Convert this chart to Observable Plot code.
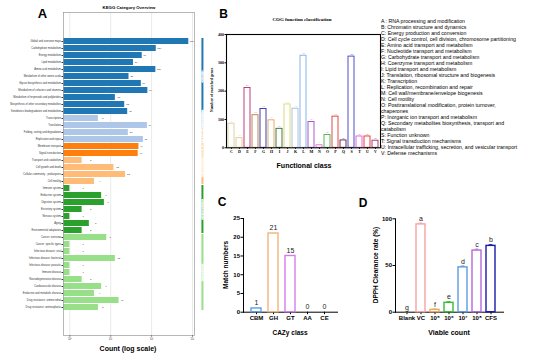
<!DOCTYPE html>
<html><head><meta charset="utf-8">
<script src="https://cdn.jsdelivr.net/npm/d3@7"></script>
<script src="https://cdn.jsdelivr.net/npm/@observablehq/plot@0.6"></script>
<style>
html,body{margin:0;padding:0;background:#fff;}
#fig{position:relative;width:550px;height:362px;overflow:hidden;background:#fff;}
#fig svg{position:absolute;}
</style></head><body><div id="fig"></div>
<script>
const SANS = "'Liberation Sans', Arial, Helvetica, sans-serif";
const SERIF = "'Liberation Serif', 'Times New Roman', serif";

// ---------- Panel A: KEGG ----------
const keggTerms = [
  "Global and overview maps","Carbohydrate metabolism","Energy metabolism","Lipid metabolism",
  "Amino acid metabolism","Metabolism of other amino acids","Glycan biosynthesis and metabolism",
  "Metabolism of cofactors and vitamins","Metabolism of terpenoids and polyketides",
  "Biosynthesis of other secondary metabolites","Xenobiotics biodegradation and metabolism",
  "Transcription","Translation","Folding, sorting and degradation","Replication and repair",
  "Membrane transport","Signal transduction",
  "Transport and catabolism","Cell growth and death","Cellular community - prokaryotes","Cell motility",
  "Immune system","Endocrine system","Digestive system","Excretory system","Nervous system","Aging","Environmental adaptation",
  "Cancer: overview","Cancer: specific types","Infectious disease: viral","Infectious disease: bacterial",
  "Infectious disease: parasitic","Immune disease","Neurodegenerative disease","Cardiovascular disease",
  "Endocrine and metabolic disease","Drug resistance: antimicrobial","Drug resistance: antineoplastic"
];
const keggCounts = [812,130,59,36,127,28,56,81,13,22,26, 5,79,27,63, 49,47, 2,12,23,4, 1,6,7,2,1,3,2, 8,1,1,13,1,1,2,6,4,16,5];
const keggClassOf = [
  "Metabolism","Metabolism","Metabolism","Metabolism","Metabolism","Metabolism","Metabolism","Metabolism","Metabolism","Metabolism","Metabolism",
  "Genetic Information Processing","Genetic Information Processing","Genetic Information Processing","Genetic Information Processing",
  "Environmental Information Processing","Environmental Information Processing",
  "Cellular Processes","Cellular Processes","Cellular Processes","Cellular Processes",
  "Organismal Systems","Organismal Systems","Organismal Systems","Organismal Systems","Organismal Systems","Organismal Systems","Organismal Systems",
  "Human Diseases","Human Diseases","Human Diseases","Human Diseases","Human Diseases","Human Diseases","Human Diseases","Human Diseases","Human Diseases","Human Diseases","Human Diseases"
];
const keggClasses = ["Metabolism","Genetic Information Processing","Environmental Information Processing","Cellular Processes","Organismal Systems","Human Diseases"];
const keggColors = ["#1f77b4","#aec7e8","#ff7f0e","#ffbb78","#2ca02c","#98df8a"];
const keggTicks = [1,10,100,1000];
const keggTickLabels = ["10\u2070","10\u00b9","10\u00b2","10\u00b3"];

// ---------- Panel B: COG ----------
const cogLetters = ["C","D","E","F","G","H","I","J","K","L","M","N","O","P","Q","S","T","U","V"];
const cogCounts = [85,34,211,115,137,97,67,153,138,325,91,9,45,110,26,322,40,40,25];
const cogColors = ["#d8cf9c","#e9c38e","#b92a6c","#bb7a3a","#2b2ba8","#e3a45a","#2f6d2f","#dcd472","#a9b9d9","#7aafe2","#a445c9","#e274d2","#43b343","#e23434","#5c1c3c","#3c3cc9","#e455d4","#e22a2a","#a32a6a"];
const cogLegend = [
  "A : RNA processing and modification",
  "B: Chromatin structure and dynamics",
  "C: Energy production and conversion",
  "D: Cell cycle control, cell division, chromosome partitioning",
  "E: Amino acid transport and metabolism",
  "F: Nucleotide transport and metabolism",
  "G: Carbohydrate transport and metabolism",
  "H: Coenzyme transport and metabolism",
  "I: Lipid transport and metabolism",
  "J: Translation, ribosomal structure and biogenesis",
  "K: Transcription",
  "L: Replication, recombination and repair",
  "M: Cell wall/membrane/envelope biogenesis",
  "N: Cell motility",
  "O: Posttranslational modification, protein turnover,",
  "chaperones",
  "P: Inorganic ion transport and metabolism",
  "Q: Secondary metabolites biosynthesis, transport and",
  "catabolism",
  "S: Function unknown",
  "T: Signal transduction mechanisms",
  "U: Intracellular trafficking, secretion, and vesicular transport",
  "V: Defense mechanisms"
];

// ---------- Panel C: CAZy ----------
const cazyClasses = ["CBM","GH","GT","AA","CE"];
const cazyCounts = [1,21,15,0,0];
const cazyColors = ["#5e9fe0","#f1b57c","#d67ce9","#999999","#999999"];

// ---------- Panel D: DPPH ----------
const dpphGroups = ["Blank","VC","10\u2075","10\u2076","10\u2077","10\u2078","CFS"];
const dpphRates = [0,94,2.5,10,48,66,71];
const dpphErr = [0.3,1.5,1,1.5,1.5,1.5,1.5];
const dpphLetters = ["g","a","f","e","d","c","b"];
const dpphColors = ["#999999","#f5a3a3","#e9a866","#35bb35","#5c9be2","#b26ad9","#1a1aa8"];

const fig = document.getElementById("fig");
function place(el, left, top) { el.style.left = left + "px"; el.style.top = top + "px"; fig.appendChild(el); }

// ---- A ----
const keggData = keggTerms.map((term, i) => ({term, count: keggCounts[i], cls: keggClassOf[i]}));
const classSpans = keggClasses.map(c => {
  const rows = keggData.filter(d => d.cls === c);
  return {cls: c, first: rows[0].term, last: rows[rows.length - 1].term, mid: rows[Math.floor((rows.length - 1) / 2)].term};
});
const stripX = 1750;
const plotA = Plot.plot({
  width: 215, height: 362,
  marginLeft: 63, marginRight: 21, marginTop: 12, marginBottom: 27,
  style: {fontFamily: SANS, fontSize: "2.6px", background: "transparent", overflow: "visible", color: "#333"},
  x: {type: "log", domain: [0.7, 1120], ticks: keggTicks, tickFormat: (d, i) => keggTickLabels[keggTicks.indexOf(d)], tickSize: 1.5, tickPadding: 1, label: null, grid: true},
  y: {domain: keggTerms, paddingInner: 0.2, paddingOuter: 1.85, tickSize: 1.5, tickPadding: 1, label: null},
  color: {domain: keggClasses, range: keggColors},
  marks: [
    Plot.barX(keggData, {x1: 0.7, x2: "count", y: "term", fill: "cls"}),
    Plot.text(keggData, {x: d => d.count * 1.05 + 1, y: "term", text: d => String(d.count), textAnchor: "start", fontSize: 2.4, fill: "#333"}),
    Plot.frame({stroke: "#999", strokeWidth: 0.7}),
    Plot.ruleX(classSpans, {x: stripX, y1: "first", y2: "last", stroke: "cls", strokeWidth: 2}),
    Plot.text(classSpans, {x: stripX, y: "mid", text: "cls", rotate: -90, fontSize: 2.2, fill: "cls", stroke: "white", strokeWidth: 1.2})
  ]
});
place(plotA, 0, 0);

// ---- B ----
const cogData = cogLetters.map((k, i) => ({k, n: cogCounts[i], c: cogColors[i]}));
const plotB = Plot.plot({
  width: 185, height: 175,
  marginLeft: 26, marginRight: 5, marginTop: 34, marginBottom: 27.7,
  style: {fontFamily: SERIF, fontSize: "4px", fontWeight: "bold", background: "transparent", overflow: "visible"},
  x: {domain: cogLetters, padding: 0.2, label: null, tickSize: 1.5, tickPadding: 1},
  y: {domain: [0, 400], ticks: [0, 100, 200, 300, 400], label: null, tickSize: 1.5, tickPadding: 1},
  color: {type: "identity"},
  marks: [
    Plot.barY(cogData, {x: "k", y: "n", fill: "white", stroke: "c", strokeWidth: 0.9}),
    Plot.text(cogData, {x: "k", y: "n", text: d => String(d.n), dy: -2.5, fontSize: 2, fontWeight: "normal", fill: "c"}),
    Plot.frame({stroke: "black", strokeWidth: 1.1})
  ]
});
place(plotB, 200, 0);

// ---- C ----
const cazyData = cazyClasses.map((k, i) => ({k, n: cazyCounts[i], c: cazyColors[i]}));
const plotC = Plot.plot({
  width: 135, height: 172,
  marginLeft: 33, marginRight: 8, marginTop: 28, marginBottom: 50.3,
  style: {fontFamily: SANS, fontSize: "6px", fontWeight: "bold", background: "transparent", overflow: "visible"},
  x: {domain: cazyClasses, padding: 0.4, label: null, tickSize: 2.5, tickPadding: 1.5, line: true},
  y: {domain: [0, 25], ticks: [0, 5, 10, 15, 20, 25], label: null, tickSize: 2.5, tickPadding: 1, line: true},
  color: {type: "identity"},
  marks: [
    Plot.barY(cazyData, {x: "k", y: "n", fill: "white", stroke: "c", strokeWidth: 1.4}),
    Plot.text(cazyData, {x: "k", y: "n", text: d => String(d.n), dy: -5.5, fontSize: 7, fontWeight: "normal", fill: "#222"})
  ]
});
place(plotC, 210, 190);

// ---- D ----
const dpphData = dpphGroups.map((g, i) => ({g, v: dpphRates[i], e: dpphErr[i], l: dpphLetters[i], c: dpphColors[i]}));
const plotD = Plot.plot({
  width: 160, height: 172,
  marginLeft: 45, marginRight: 7, marginTop: 28.3, marginBottom: 50.3,
  style: {fontFamily: SANS, fontSize: "6px", fontWeight: "bold", background: "transparent", overflow: "visible"},
  x: {domain: dpphGroups, padding: 0.35, label: null, tickSize: 2.5, tickPadding: 1.5, line: true},
  y: {domain: [0, 100], ticks: [0, 50, 100], label: null, tickSize: 2.5, tickPadding: 1, line: true},
  color: {type: "identity"},
  marks: [
    Plot.barY(dpphData, {x: "g", y: "v", fill: "white", stroke: "c", strokeWidth: 1.4}),
    Plot.ruleX(dpphData, {x: "g", y1: "v", y2: d => d.v + d.e, stroke: "c", strokeWidth: 0.8}),
    Plot.tickY(dpphData, {x: "g", y: d => d.v + d.e, stroke: "c", strokeWidth: 0.8, insetLeft: 2.5, insetRight: 2.5}),
    Plot.text(dpphData, {x: "g", y: d => d.v + d.e, text: "l", dy: -4.5, fontSize: 7, fontWeight: "normal", fill: "#222"})
  ]
});
place(plotD, 350, 190);

// ---- overlay texts ----
const over = d3.select(fig).append("svg").attr("width", 550).attr("height", 362).style("left", "0px").style("top", "0px");
function label(txt, x, y, o = {}) {
  over.append("text")
    .attr("transform", `translate(${x},${y}) rotate(${o.rotate || 0})`)
    .attr("text-anchor", o.anchor || "middle")
    .attr("dominant-baseline", "central")
    .style("font-size", o.size + "px")
    .style("font-weight", o.weight || "bold")
    .style("font-family", o.family || SANS)
    .attr("fill", o.fill || "#000")
    .text(txt);
}
label("A", 42.5, 13, {size: 13});
label("KEGG Category Overview", 129, 7, {size: 4.3});
label("Count (log scale)", 128, 348, {size: 7});
label("B", 223.5, 14, {size: 12});
label("COG function classification", 302, 19, {size: 5, family: SERIF});
label("Number of matched genes", 211, 90, {size: 4, family: SERIF, rotate: -90});
label("Functional class", 304, 165, {size: 7});
cogLegend.forEach((t, i) => label(t, 381, 21 + i * 6.0, {size: 5.2, weight: "normal", anchor: "start", fill: "#000"}));
label("C", 222, 202, {size: 12});
label("Match numbers", 225, 265, {size: 6.5, rotate: -90});
label("CAZy class", 290, 332, {size: 6.5});
label("D", 363, 203, {size: 12});
label("DPPH Clearance rate (%)", 375, 265, {size: 6.5, rotate: -90});
label("Viable count", 449, 332, {size: 7});
</script>
</body></html>
